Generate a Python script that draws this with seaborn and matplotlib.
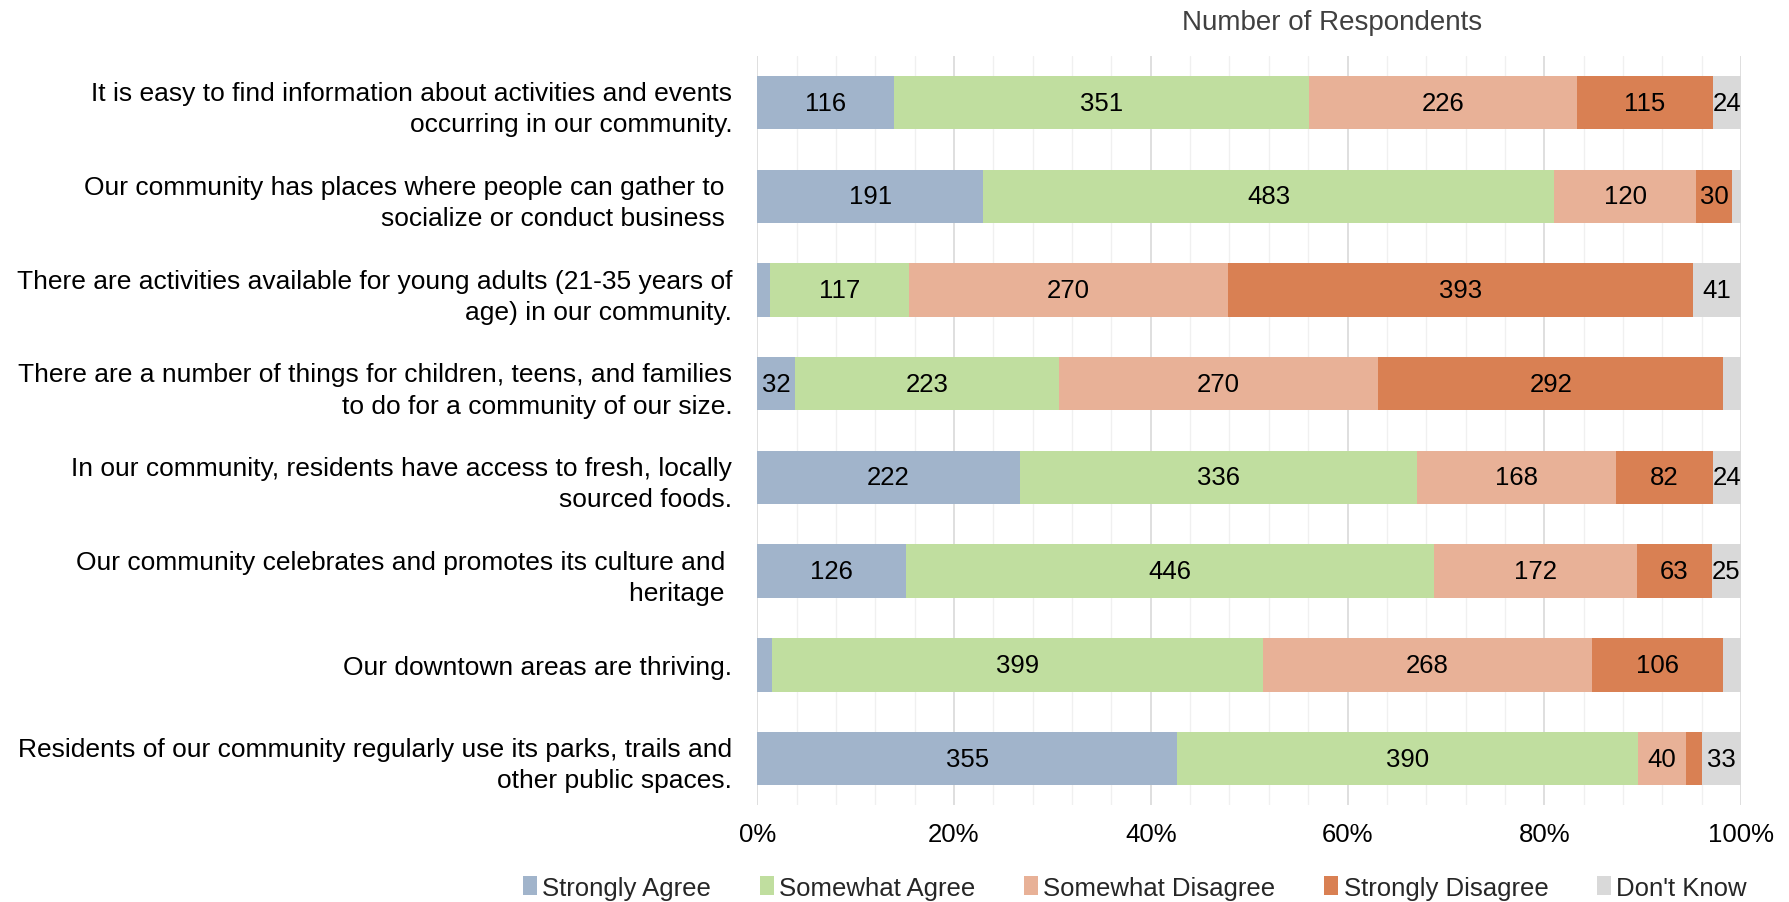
import numpy as np
import pandas as pd
import matplotlib
matplotlib.use("Agg")
import matplotlib.pyplot as plt
import seaborn as sns
from matplotlib.ticker import MultipleLocator, FuncFormatter
from matplotlib.patches import Patch

statements = [
    "It is easy to find information about activities and events\noccurring in our community.",
    "Our community has places where people can gather to \nsocialize or conduct business ",
    "There are activities available for young adults (21-35 years of\nage) in our community.",
    "There are a number of things for children, teens, and families\nto do for a community of our size.",
    "In our community, residents have access to fresh, locally\nsourced foods.",
    "Our community celebrates and promotes its culture and \nheritage ",
    "Our downtown areas are thriving.",
    "Residents of our community regularly use its parks, trails and\nother public spaces.",
]
responses = ["Strongly Agree", "Somewhat Agree", "Somewhat Disagree", "Strongly Disagree", "Don't Know"]
strongly_agree = [116, 191, 11, 32, 222, 126, 12, 355]
somewhat_agree = [351, 483, 117, 223, 336, 446, 399, 390]
somewhat_disagree = [226, 120, 270, 270, 168, 172, 268, 40]
strongly_disagree = [115, 30, 393, 292, 82, 63, 106, 14]
dont_know = [24, 8, 41, 15, 24, 25, 15, 33]
colors = ["#A1B4CB", "#C0DE9F", "#E8B197", "#D98053", "#D9D9D9"]

sns.set_theme(style="white")
FONT = ["Liberation Sans", "DejaVu Sans"]
plt.rcParams["font.family"] = FONT

df = pd.DataFrame({
    "Statement": statements,
    responses[0]: strongly_agree,
    responses[1]: somewhat_agree,
    responses[2]: somewhat_disagree,
    responses[3]: strongly_disagree,
    responses[4]: dont_know,
})
vals = df[responses].to_numpy(dtype=float)
totals = vals.sum(axis=1, keepdims=True)
pct = vals / totals * 100
cum = np.cumsum(pct, axis=1)

fig = plt.figure(figsize=(17.9, 9.03), dpi=100)
ax = fig.add_axes([0.423, 0.107, 0.5497, 0.830])

for j in range(len(responses) - 1, -1, -1):
    d = pd.DataFrame({"Statement": statements, "cum": cum[:, j]})
    sns.barplot(data=d, x="cum", y="Statement", color=colors[j], orient="h",
                width=0.57, saturation=1, ax=ax, linewidth=0, zorder=3)

starts = cum - pct
for i in range(len(statements)):
    for j in range(len(responses)):
        v = vals[i, j]
        if v >= 20:
            ax.text(starts[i, j] + pct[i, j] / 2, i, f"{int(v)}", ha="center", va="center",
                    fontsize=18.5, color="black", zorder=5)

ax.set_xlim(0, 100)
ax.set_ylim(7.5, -0.5)
ax.xaxis.set_major_locator(MultipleLocator(20))
ax.xaxis.set_minor_locator(MultipleLocator(4))
ax.xaxis.set_major_formatter(FuncFormatter(lambda x, p: f"{int(x)}%"))
ax.grid(axis="x", which="major", color="#D9D9D9", linewidth=1.2, zorder=0)
ax.grid(axis="x", which="minor", color="#F0F0F0", linewidth=1.0, zorder=0)
ax.set_axisbelow(True)
for s in ax.spines.values():
    s.set_visible(False)
ax.set_xlabel("")
ax.set_ylabel("")
ax.tick_params(axis="both", which="both", length=0)
ax.tick_params(axis="x", labelsize=18.5, pad=12, colors="black")
ax.tick_params(axis="y", labelsize=19, pad=18, colors="black")
for lab in ax.get_yticklabels():
    lab.set_horizontalalignment("right")
    lab.set_linespacing(1.38)

fig.text(0.744, 0.975, "Number of Respondents", ha="center", va="center",
         fontsize=20, color="#404040", family=["Liberation Sans", "DejaVu Sans"])

handles = [Patch(facecolor=c, edgecolor="none") for c in colors]
fig.legend(handles, responses, loc="center", bbox_to_anchor=(0.634, 0.016), ncol=5,
           frameon=False, fontsize=18.5, handlelength=0.55, handleheight=0.8,
           handletextpad=0.2, columnspacing=1.9)

fig.savefig("out.png", dpi=100)
